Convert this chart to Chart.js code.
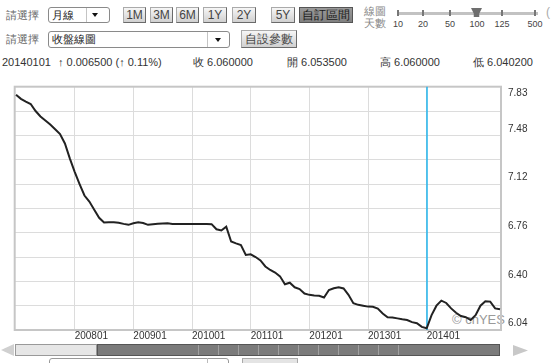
<!DOCTYPE html>
<html>
<head>
<meta charset="utf-8">
<script src="https://cdn.jsdelivr.net/npm/chart.js@4.4.1/dist/chart.umd.min.js"></script>
<style>
  body { margin:0; width:553px; height:363px; overflow:hidden; background:#fff; position:relative;
         font-family: Arial, "Liberation Sans", sans-serif; }
  .abs { position:absolute; white-space:nowrap; }
  .lbl { font-size:11px; color:#666; line-height:13px; }
  .sel { position:absolute; box-sizing:border-box; border:1px solid #8a8a8a; border-radius:3px; background:#fff; }
  .sel .tx { position:absolute; left:3px; top:1px; font-size:11px; line-height:13px; color:#222; }
  .sel .dv { position:absolute; top:0; bottom:0; border-left:1px solid #c4c4c4; }
  .sel .ar { position:absolute; width:0; height:0; border-left:3.5px solid transparent; border-right:3.5px solid transparent; border-top:4px solid #111; }
  .btn { position:absolute; box-sizing:border-box; border:1px solid #aaa; border-right-color:#6a6a6a; border-bottom-color:#6a6a6a;
         background:linear-gradient(#f6f6f6,#d0d0d0); font-size:12px; color:#444; text-align:center; line-height:14px; }
  .btn.on { background:linear-gradient(#9a9a9a,#808080); color:#1a1a1a; border-color:#555; }
  .info { position:absolute; top:56px; font-size:11px; line-height:13px; color:#333; white-space:nowrap; }
  .tick { position:absolute; top:10px; width:2px; height:6px; background:#777; }
  .tnum { position:absolute; top:19px; font-size:9px; line-height:10px; color:#444; transform:translateX(-50%); }
  #wrap { position:absolute; left:0; top:80px; width:553px; height:265px; }
  #mark { position:absolute; left:452px; top:312px; font-size:13px; color:#9a9a9a; }
</style>
</head>
<body>

<!-- row 1 -->
<div class="abs lbl" style="left:6px;top:9px;">請選擇</div>
<div class="sel" style="left:48px;top:7px;width:62px;height:16px;">
  <span class="tx">月線</span><span class="dv" style="left:37px;"></span><span class="ar" style="left:43px;top:5px;"></span>
</div>
<div class="btn" style="left:123px;top:7px;width:23px;height:16px;">1M</div>
<div class="btn" style="left:150px;top:7px;width:23px;height:16px;">3M</div>
<div class="btn" style="left:176px;top:7px;width:23px;height:16px;">6M</div>
<div class="btn" style="left:203px;top:7px;width:24px;height:16px;">1Y</div>
<div class="btn" style="left:232px;top:7px;width:24px;height:16px;">2Y</div>
<div class="btn" style="left:271px;top:7px;width:24px;height:16px;">5Y</div>
<div class="btn on" style="left:299px;top:7px;width:54px;height:16px;">自訂區間</div>

<div class="abs lbl" style="left:364px;top:5px;color:#888;">線圖</div>
<div class="abs lbl" style="left:364px;top:17px;color:#888;">天數</div>
<div class="abs" style="left:398px;top:12px;width:140px;height:3px;background:#c2c2c2;"></div>
<div class="tick" style="left:397px;"></div><div class="tnum" style="left:398px;">10</div>
<div class="tick" style="left:422px;"></div><div class="tnum" style="left:423px;">20</div>
<div class="tick" style="left:449px;"></div><div class="tnum" style="left:450px;">50</div>
<div class="tick" style="left:476px;"></div><div class="tnum" style="left:477px;">100</div>
<div class="tick" style="left:501px;"></div><div class="tnum" style="left:502px;">125</div>
<div class="tick" style="left:534px;"></div><div class="tnum" style="left:535px;">500</div>
<div class="abs" style="left:471px;top:8px;width:11px;height:9px;background:#6e6e6e;clip-path:polygon(0 0,100% 0,75% 60%,75% 100%,25% 100%,25% 60%);"></div>
<div class="abs" style="left:546px;top:5px;font-size:12px;color:#aaa;">(</div>

<!-- row 2 -->
<div class="abs lbl" style="left:6px;top:33px;">請選擇</div>
<div class="sel" style="left:48px;top:31px;width:182px;height:17px;">
  <span class="tx">收盤線圖</span><span class="dv" style="left:158px;"></span><span class="ar" style="left:166px;top:6px;"></span>
</div>
<div class="btn" style="left:241px;top:30px;width:56px;height:18px;line-height:16px;">自設參數</div>

<!-- row 3 -->
<div class="info" style="left:2px;">20140101</div>
<div class="info" style="left:58px;">↑ 0.006500 (↑ 0.11%)</div>
<div class="info" style="left:193px;">收 6.060000</div>
<div class="info" style="left:287px;">開 6.053500</div>
<div class="info" style="left:380px;">高 6.060000</div>
<div class="info" style="left:473px;">低 6.040200</div>

<!-- chart -->
<div id="mark">© cnYES</div>
<div id="wrap"><canvas id="c" width="553" height="265"></canvas></div>

<!-- scroller -->
<div class="abs" style="left:1px;top:344px;width:13px;height:12px;background:#d0d0d0;clip-path:polygon(0 50%,100% 0,100% 100%);"></div>
<div class="abs" style="left:15px;top:344px;width:82px;height:12px;box-sizing:border-box;border:1px solid #999;background:#e6e6e6;"></div>
<div class="abs" style="left:97px;top:344px;width:403px;height:12px;box-sizing:border-box;border:1px solid #555;background:#7b7b7b;"></div>
<div class="abs" style="left:198px;top:345px;width:201px;height:10px;background:repeating-linear-gradient(90deg,#a0a0a0 0,#a0a0a0 1px,transparent 1px,transparent 20px);"></div>
<div class="abs" style="left:513px;top:345px;width:15px;height:11px;background:#c8c8c8;clip-path:polygon(0 0,100% 50%,0 100%);"></div>

<!-- cut-off bottom row -->
<div class="abs" style="left:49px;top:358px;width:180px;height:18px;box-sizing:border-box;border:1px solid #999;border-radius:3px;"></div>
<div class="abs" style="left:207px;top:358px;width:1px;height:6px;background:#bbb;"></div>
<div class="abs" style="left:242px;top:358px;width:56px;height:18px;box-sizing:border-box;border:1px solid #aaa;background:#e4e4e4;"></div>

<script>
'use strict';

// ── DATA ───────────────────────────────────────────────────
// monthly closes, 200701 .. 201504 (index 0 = 200701)
const START_MONTH = '200701';
const VALUES = [
  7.78, 7.75, 7.73, 7.712, 7.66, 7.62, 7.59, 7.56, 7.525, 7.49, 7.42, 7.31,          // 2007
  7.21, 7.12, 7.035, 6.99, 6.93, 6.87, 6.835, 6.837, 6.838, 6.834, 6.825, 6.818,     // 2008
  6.83, 6.837, 6.832, 6.818, 6.822, 6.826, 6.828, 6.829, 6.825, 6.825, 6.825, 6.825, // 2009
  6.825, 6.825, 6.825, 6.825, 6.823, 6.785, 6.776, 6.805, 6.695, 6.681, 6.668, 6.595,// 2010
  6.60, 6.58, 6.555, 6.51, 6.484, 6.465, 6.437, 6.378, 6.39, 6.356, 6.343, 6.31,     // 2011
  6.30, 6.296, 6.293, 6.28, 6.336, 6.349, 6.356, 6.347, 6.30, 6.238, 6.226, 6.22,    // 2012
  6.213, 6.212, 6.198, 6.162, 6.134, 6.132, 6.126, 6.119, 6.114, 6.098, 6.09, 6.063, // 2013
  6.053, 6.15, 6.22, 6.257, 6.24, 6.2, 6.167, 6.143, 6.135, 6.114, 6.15, 6.22,       // 2014
  6.252, 6.25, 6.2, 6.193                                                            // 2015
];

const XTICK_MONTHS = [12, 24, 36, 48, 60, 72, 84];
const XTICK_LABELS = ['200801', '200901', '201001', '201101', '201201', '201301', '201401'];

const YTICKS = [6.04, 6.22, 6.40, 6.58, 6.76, 6.94, 7.12, 7.30, 7.48, 7.66, 7.84];
const YTICK_LABELS = ['6.04', '', '6.40', '', '6.76', '', '7.12', '', '7.48', '', '7.83'];

const MARK_MONTH = 84; // 201401, selected bar

// ── PLUGINS ────────────────────────────────────────────────
const framePlugin = {
  id: 'frame',
  beforeDatasetsDraw(chart) {
    const { ctx, chartArea: a, scales } = chart;
    ctx.save();
    ctx.strokeStyle = '#c6c6c6';
    ctx.lineWidth = 2;
    ctx.strokeRect(a.left, a.top, a.right - a.left, a.bottom - a.top);
    const mx = Math.round(scales.x.getPixelForValue(MARK_MONTH));
    ctx.strokeStyle = '#22b4ec';
    ctx.lineWidth = 1.5;
    ctx.beginPath();
    ctx.moveTo(mx, a.top);
    ctx.lineTo(mx, a.bottom);
    ctx.stroke();
    ctx.restore();
  }
};

// ── CHART ──────────────────────────────────────────────────
Chart.defaults.font.family = 'Arial, "Liberation Sans", sans-serif';

new Chart(document.getElementById('c'), {
  type: 'line',
  data: {
    datasets: [{
      label: START_MONTH,
      data: VALUES.map((v, i) => ({ x: i, y: v })),
      borderColor: '#222',
      borderWidth: 2,
      pointRadius: 0,
      tension: 0,
      fill: false
    }]
  },
  options: {
    responsive: false,
    animation: false,
    layout: { padding: { top: 6.7, left: 14.7, right: 0, bottom: 0 } },
    plugins: { legend: { display: false }, tooltip: { enabled: false } },
    scales: {
      x: {
        type: 'linear',
        min: -0.27,
        max: 99.2,
        afterBuildTicks: s => { s.ticks = XTICK_MONTHS.map(v => ({ value: v })); },
        afterFit: s => { s.height = 15; s.paddingLeft = 0; s.paddingRight = 0; },
        grid: { color: '#dcdcdc', drawTicks: false },
        border: { display: false },
        ticks: {
          align: 'start', padding: 0, maxRotation: 0, autoSkip: false,
          color: '#333', font: { size: 10 },
          callback: (v, i) => XTICK_LABELS[i]
        }
      },
      y: {
        position: 'right',
        min: 6.04,
        max: 7.84,
        afterBuildTicks: s => { s.ticks = YTICKS.map(v => ({ value: v })); },
        afterFit: s => { s.width = 52; s.paddingTop = 0; s.paddingBottom = 0; },
        grid: { color: '#dcdcdc', drawTicks: false },
        border: { display: false },
        ticks: {
          padding: 7, autoSkip: false, color: '#333',
          font: { size: 10, lineHeight: 1.3 },
          callback: (v, i) => {
            const t = YTICK_LABELS[i];
            if (!t) return '';
            return i === YTICKS.length - 1 ? ['', t] : [t, ''];
          }
        }
      }
    }
  },
  plugins: [framePlugin]
});
</script>
</body>
</html>
